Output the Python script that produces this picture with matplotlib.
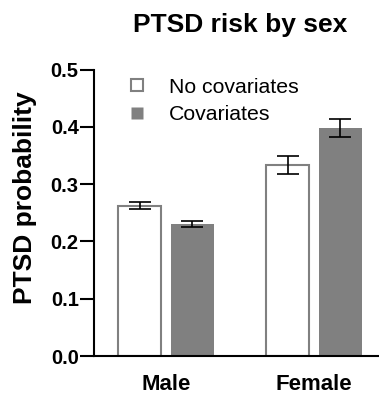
import matplotlib.pyplot as plt
import numpy as np
from matplotlib.lines import Line2D

plt.rcParams['font.family'] = ['Liberation Sans', 'DejaVu Sans']

# Data
groups = ['Male', 'Female']
series = ['No covariates', 'Covariates']
no_cov = [0.262, 0.334]
no_cov_err = [0.006, 0.016]
cov = [0.231, 0.398]
cov_err = [0.0055, 0.016]
yticks = [0.0, 0.1, 0.2, 0.3, 0.4, 0.5]

gray = '#808080'
bar_width = 0.29
offset = 0.178
x = np.arange(len(groups))

fig = plt.figure(figsize=(3.79, 3.97), dpi=100)
ax = fig.add_axes([94 / 379, 41 / 397, 285 / 379, 286.4 / 397])

ax.bar(x - offset, no_cov, width=bar_width, color='white', edgecolor=gray,
       linewidth=1.5, zorder=2)
ax.bar(x + offset, cov, width=bar_width, color=gray, edgecolor='none', zorder=2)
ax.errorbar(x - offset, no_cov, yerr=no_cov_err, fmt='none', ecolor='black',
            elinewidth=1.2, capsize=8, capthick=1.2, zorder=3)
ax.errorbar(x + offset, cov, yerr=cov_err, fmt='none', ecolor='black',
            elinewidth=1.2, capsize=8, capthick=1.2, zorder=3)

ax.set_xlim(-0.486, 1.439)
ax.set_ylim(0, 0.5)
ax.set_yticks(yticks)
ax.set_yticklabels([f'{t:.1f}' for t in yticks], fontsize=14.5, fontweight='bold')
ax.set_xticks(x)
ax.set_xticklabels(groups, fontsize=16, fontweight='bold')
ax.tick_params(axis='x', length=0, pad=13)
ax.tick_params(axis='y', length=10, width=1.5, pad=1)

for side in ['top', 'right']:
    ax.spines[side].set_visible(False)
for side in ['left', 'bottom']:
    ax.spines[side].set_linewidth(1.5)

fig.text(25 / 379, 1 - 198 / 397, 'PTSD probability', rotation=90,
         ha='center', va='center', fontsize=19, fontweight='bold')
fig.text(240 / 379, 1 - 32 / 397, 'PTSD risk by sex', ha='center',
         va='baseline', fontsize=19, fontweight='bold')

handles = [
    Line2D([], [], marker='s', linestyle='none', markersize=8,
           markerfacecolor='white', markeredgecolor=gray, markeredgewidth=1.5),
    Line2D([], [], marker='s', linestyle='none', markersize=9,
           markerfacecolor=gray, markeredgecolor='none'),
]
ax.legend(handles, series, loc='upper left', bbox_to_anchor=(0.113, 0.972),
          frameon=False, fontsize=15.3, handlelength=1, handletextpad=1.0,
          borderpad=0, borderaxespad=0, labelspacing=0.4)

fig.savefig('out.png', dpi=100)
